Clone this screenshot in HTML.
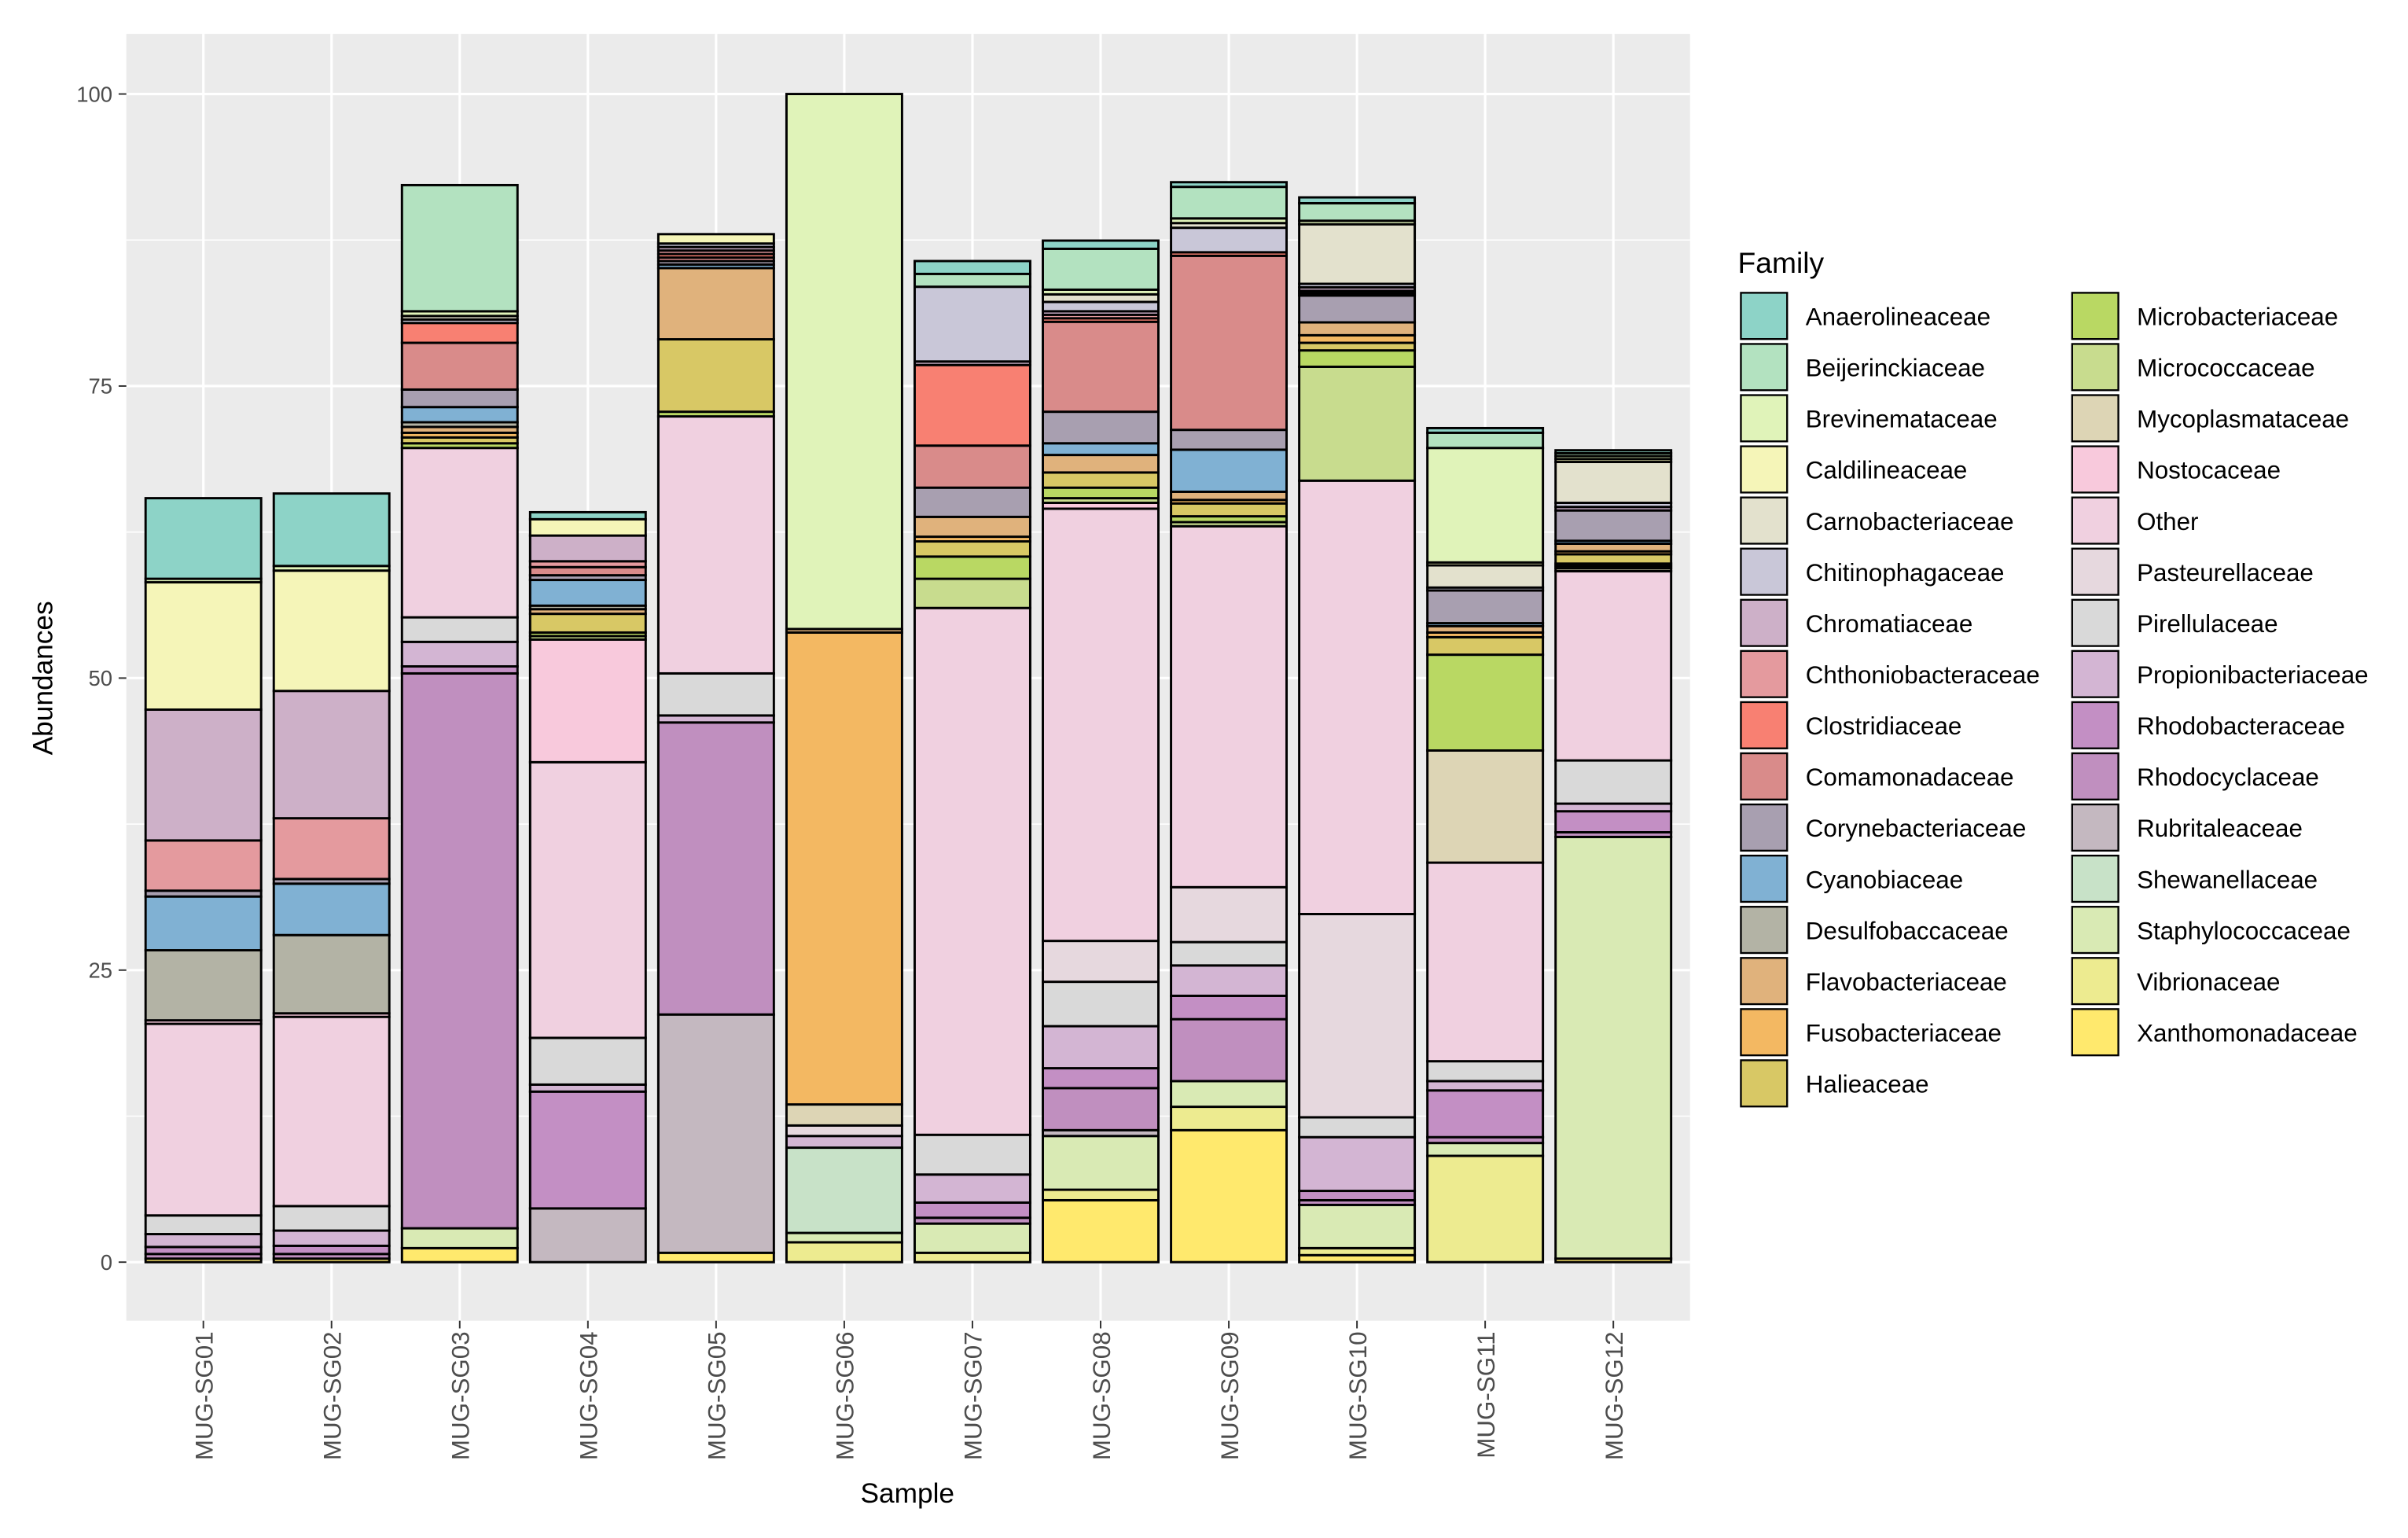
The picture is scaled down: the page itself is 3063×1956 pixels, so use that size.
<!DOCTYPE html>
<html><head><meta charset="utf-8"><style>
body{margin:0;background:#fff;}
svg{display:block;font-family:"Liberation Sans",Arial,sans-serif;}
</style></head><body>
<svg id="chart" width="3063" height="1956" viewBox="0 0 1563 998" preserveAspectRatio="none" xmlns="http://www.w3.org/2000/svg">
<rect x="0" y="0" width="1563" height="998" fill="#fff"/>
<rect x="82" y="22" width="1015" height="835" fill="#EBEBEB"/>
<g id="grid"></g><g id="bars"></g><g id="axes"></g><g id="legend"></g>
<text x="34" y="440" font-size="18" fill="#000" text-anchor="middle" transform="rotate(-90 34 440)">Abundances</text>
<text x="589" y="975" font-size="18" fill="#000" text-anchor="middle">Sample</text>
</svg>
<script>
const samples = ["MUG-SG01","MUG-SG02","MUG-SG03","MUG-SG04","MUG-SG05","MUG-SG06","MUG-SG07","MUG-SG08","MUG-SG09","MUG-SG10","MUG-SG11","MUG-SG12"];
const families = ["Anaerolineaceae","Beijerinckiaceae","Brevinemataceae","Caldilineaceae","Carnobacteriaceae","Chitinophagaceae","Chromatiaceae","Chthoniobacteraceae","Clostridiaceae","Comamonadaceae","Corynebacteriaceae","Cyanobiaceae","Desulfobaccaceae","Flavobacteriaceae","Fusobacteriaceae","Halieaceae","Microbacteriaceae","Micrococcaceae","Mycoplasmataceae","Nostocaceae","Other","Pasteurellaceae","Pirellulaceae","Propionibacteriaceae","Rhodobacteraceae","Rhodocyclaceae","Rubritaleaceae","Shewanellaceae","Staphylococcaceae","Vibrionaceae","Xanthomonadaceae"];
const colors = ["#8DD3C7","#B3E2C0","#E0F3B9","#F5F5B8","#E3E1CD","#C9C7D8","#CDB0C8","#E49A9E","#F88072","#D98B8A","#A89FB0","#80B1D3","#B3B3A5","#E0B27C","#F3B862","#D8C865","#B9D863","#C8DC8E","#DDD5B5","#F8C9DC","#F0D0E0","#E6D8DE","#D9D9D9","#D3B5D3","#C38FC4","#C08FBF","#C4B8C0","#C8E2C8","#D9EAB4","#EDEB90","#FFE96D"];
const sg01 = {Anaerolineaceae:6.9,Brevinemataceae:0.3,Caldilineaceae:10.9,Chromatiaceae:11.2,Chthoniobacteraceae:4.3,Corynebacteriaceae:0.5,Cyanobiaceae:4.6,Desulfobaccaceae:6,Nostocaceae:0.3,Other:16.4,Pirellulaceae:1.6,Propionibacteriaceae:1.1,Rhodobacteraceae:0.6,Rhodocyclaceae:0.4,Xanthomonadaceae:0.3};
const sg02 = {Anaerolineaceae:6.2,Brevinemataceae:0.4,Caldilineaceae:10.3,Chromatiaceae:10.9,Chthoniobacteraceae:5.2,Corynebacteriaceae:0.4,Cyanobiaceae:4.4,Desulfobaccaceae:6.7,Nostocaceae:0.3,Other:16.2,Pirellulaceae:2.1,Propionibacteriaceae:1.3,Rhodobacteraceae:0.7,Rhodocyclaceae:0.4,Xanthomonadaceae:0.3};
const sg03 = {Beijerinckiaceae:10.8,Brevinemataceae:0.4,Carnobacteriaceae:0.3,Chitinophagaceae:0.3,Clostridiaceae:1.7,Comamonadaceae:4,Corynebacteriaceae:1.5,Cyanobiaceae:1.3,Desulfobaccaceae:0.4,Flavobacteriaceae:0.5,Fusobacteriaceae:0.4,Halieaceae:0.5,Microbacteriaceae:0.4,Other:14.5,Pirellulaceae:2.1,Propionibacteriaceae:2.1,Rhodobacteraceae:0.6,Rhodocyclaceae:47.5,Staphylococcaceae:1.7,Xanthomonadaceae:1.2};
const sg04 = {Anaerolineaceae:0.6,Caldilineaceae:1.4,Chromatiaceae:2.2,Chthoniobacteraceae:0.5,Comamonadaceae:0.7,Corynebacteriaceae:0.4,Cyanobiaceae:2.2,Desulfobaccaceae:0.3,Flavobacteriaceae:0.4,Halieaceae:1.6,Microbacteriaceae:0.3,Micrococcaceae:0.3,Nostocaceae:10.5,Other:23.6,Pirellulaceae:4,Propionibacteriaceae:0.6,Rhodobacteraceae:10,Rubritaleaceae:4.6};
const sg05 = {Caldilineaceae:0.8,Chitinophagaceae:0.3,Chromatiaceae:0.3,Chthoniobacteraceae:0.3,Clostridiaceae:0.3,Comamonadaceae:0.3,Corynebacteriaceae:0.3,Cyanobiaceae:0.3,Flavobacteriaceae:6.1,Halieaceae:6.2,Microbacteriaceae:0.4,Other:22,Pirellulaceae:3.6,Propionibacteriaceae:0.6,Rhodocyclaceae:25,Rubritaleaceae:20.4,Xanthomonadaceae:0.8};
const sg06 = {Brevinemataceae:45.8,Flavobacteriaceae:0.3,Fusobacteriaceae:40.4,Mycoplasmataceae:1.8,Pasteurellaceae:0.9,Propionibacteriaceae:1,Shewanellaceae:7.3,Staphylococcaceae:0.8,Vibrionaceae:1.7};
const sg07 = {Anaerolineaceae:1.1,Beijerinckiaceae:1.1,Chitinophagaceae:6.4,Chromatiaceae:0.3,Clostridiaceae:6.9,Comamonadaceae:3.6,Corynebacteriaceae:2.5,Flavobacteriaceae:1.7,Fusobacteriaceae:0.4,Halieaceae:1.3,Microbacteriaceae:1.9,Micrococcaceae:2.5,Other:45.1,Pirellulaceae:3.4,Propionibacteriaceae:2.4,Rhodobacteraceae:1.3,Rhodocyclaceae:0.5,Staphylococcaceae:2.5,Vibrionaceae:0.8};
const sg08 = {Anaerolineaceae:0.7,Beijerinckiaceae:3.5,Brevinemataceae:0.4,Carnobacteriaceae:0.65,Chitinophagaceae:0.8,Chromatiaceae:0.3,Chthoniobacteraceae:0.3,Clostridiaceae:0.3,Comamonadaceae:7.7,Corynebacteriaceae:2.7,Cyanobiaceae:1,Flavobacteriaceae:1.5,Halieaceae:1.3,Microbacteriaceae:0.9,Micrococcaceae:0.4,Nostocaceae:0.5,Other:37,Pasteurellaceae:3.5,Pirellulaceae:3.8,Propionibacteriaceae:3.6,Rhodobacteraceae:1.7,Rhodocyclaceae:3.6,Rubritaleaceae:0.5,Staphylococcaceae:4.6,Vibrionaceae:0.9,Xanthomonadaceae:5.3};
const sg09 = {Anaerolineaceae:0.4,Beijerinckiaceae:2.7,Brevinemataceae:0.4,Carnobacteriaceae:0.4,Chitinophagaceae:2.1,Clostridiaceae:0.3,Comamonadaceae:14.9,Corynebacteriaceae:1.7,Cyanobiaceae:3.6,Flavobacteriaceae:0.7,Fusobacteriaceae:0.3,Halieaceae:1.1,Microbacteriaceae:0.5,Micrococcaceae:0.35,Other:30.9,Pasteurellaceae:4.7,Pirellulaceae:2,Propionibacteriaceae:2.6,Rhodobacteraceae:2,Rhodocyclaceae:5.3,Staphylococcaceae:2.2,Vibrionaceae:2,Xanthomonadaceae:11.3};
const sg10 = {Anaerolineaceae:0.5,Beijerinckiaceae:1.5,Brevinemataceae:0.3,Carnobacteriaceae:5.1,Chitinophagaceae:0.3,Chromatiaceae:0.3,Chthoniobacteraceae:0.2,Comamonadaceae:0.2,Corynebacteriaceae:2.3,Flavobacteriaceae:1.1,Fusobacteriaceae:0.65,Halieaceae:0.65,Microbacteriaceae:1.4,Micrococcaceae:9.75,Other:37.1,Pasteurellaceae:17.4,Pirellulaceae:1.7,Propionibacteriaceae:4.6,Rhodobacteraceae:0.8,Rhodocyclaceae:0.4,Staphylococcaceae:3.7,Vibrionaceae:0.6,Xanthomonadaceae:0.6};
const sg11 = {Anaerolineaceae:0.4,Beijerinckiaceae:1.3,Brevinemataceae:9.8,Caldilineaceae:0.25,Carnobacteriaceae:1.9,Chitinophagaceae:0.25,Corynebacteriaceae:2.8,Cyanobiaceae:0.25,Flavobacteriaceae:0.55,Fusobacteriaceae:0.4,Halieaceae:1.5,Microbacteriaceae:8.2,Mycoplasmataceae:9.6,Other:17,Pirellulaceae:1.7,Propionibacteriaceae:0.8,Rhodobacteraceae:4,Rhodocyclaceae:0.5,Staphylococcaceae:1.1,Vibrionaceae:9.1};
const sg12 = {Anaerolineaceae:0.25,Beijerinckiaceae:0.25,Brevinemataceae:0.25,Caldilineaceae:0.25,Carnobacteriaceae:3.5,Chitinophagaceae:0.35,Chromatiaceae:0.3,Corynebacteriaceae:2.6,Cyanobiaceae:0.25,Flavobacteriaceae:0.65,Fusobacteriaceae:0.25,Halieaceae:0.8,Microbacteriaceae:0.2,Micrococcaceae:0.2,Mycoplasmataceae:0.25,Other:16.2,Pirellulaceae:3.7,Propionibacteriaceae:0.65,Rhodobacteraceae:1.8,Rhodocyclaceae:0.4,Staphylococcaceae:36.1,Xanthomonadaceae:0.3};
const sampleValues = [sg01,sg02,sg03,sg04,sg05,sg06,sg07,sg08,sg09,sg10,sg11,sg12];
const yTicks = [0,25,50,75,100];

const NS="http://www.w3.org/2000/svg";
function mk(tag,attrs,parent,txt){const e=document.createElementNS(NS,tag);for(const k in attrs)e.setAttribute(k,attrs[k]);if(txt!==undefined)e.textContent=txt;parent.appendChild(e);return e;}
const yScale = v => 819 - v*7.58;
const xScale = i => 132 + i*83.2;
const barW = 75;
const grid=document.getElementById('grid'), bars=document.getElementById('bars'), axes=document.getElementById('axes'), legend=document.getElementById('legend');

for(let i=0;i<yTicks.length-1;i++){
  const m=(yTicks[i]+yTicks[i+1])/2;
  const l=mk('line',{x1:82,x2:1097,y1:yScale(m),y2:yScale(m),stroke:'#fff','stroke-width':0.8},grid);
  
  
}
yTicks.forEach(t=>{
  const l=mk('line',{x1:82,x2:1097,y1:yScale(t),y2:yScale(t),stroke:'#fff','stroke-width':1.6},grid);
  
  
  mk('line',{x1:77,x2:82,y1:yScale(t),y2:yScale(t),stroke:'#333','stroke-width':1},axes);
  const tx=mk('text',{x:73,y:yScale(t)+5,'font-size':14,fill:'#4d4d4d','text-anchor':'end'},axes,String(t));
  
  
});
samples.forEach((s,i)=>{
  const x=xScale(i);
  const l=mk('line',{x1:x,x2:x,y1:22,y2:857,stroke:'#fff','stroke-width':1.6},grid);
  
  
  mk('line',{x1:x,x2:x,y1:857,y2:862,stroke:'#333','stroke-width':1},axes);
  const tx=mk('text',{x:x+6,y:864,'font-size':16,fill:'#4d4d4d','text-anchor':'end',transform:`rotate(-90 ${x+6} 864)`},axes,s);
  
  
  const vals=sampleValues[i];
  let cum=0;
  for(let f=families.length-1;f>=0;f--){
    const v=vals[families[f]];
    if(!v) continue;
    const y0=yScale(cum), y1=yScale(cum+v);
    const r=mk('rect',{x:x-barW/2,y:y1,width:barW,height:y0-y1,fill:colors[f],stroke:'#000','stroke-width':1.5},bars);
    
    
    cum+=v;
  }
});
const lt=mk('text',{x:1128,y:177,'font-size':19,fill:'#000'},legend,'Family');


families.forEach((f,i)=>{
  const col=i<16?0:1, row=i<16?i:i-16;
  const kx=col?1345:1130, ky=190+row*33.2;
  const r=mk('rect',{x:kx,y:ky,width:30,height:30,fill:colors[i],stroke:'#000','stroke-width':1.2},legend);
  
  
  const t=mk('text',{x:kx+42,y:ky+21,'font-size':16,fill:'#000'},legend,f);
  
  
});
</script>
</body></html>
